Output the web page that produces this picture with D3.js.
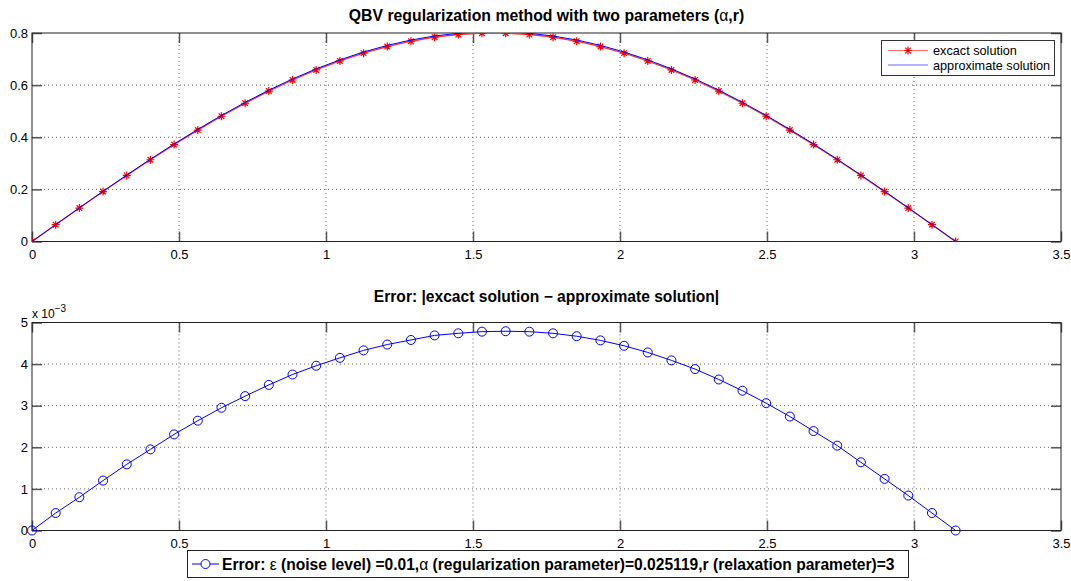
<!DOCTYPE html>
<html>
<head>
<meta charset="utf-8">
<script src="https://cdn.jsdelivr.net/npm/d3@7"></script>
<style>
  body { margin: 0; background: #fff; }
  svg { display: block; font-family: "Liberation Sans", Arial, sans-serif; }
</style>
</head>
<body>
<svg id="chart" width="1071" height="581"></svg>
<script>
// x grid: 40 points between 0 and pi
const xs = [0, 0.0806, 0.1611, 0.2417, 0.3222, 0.4028, 0.4833, 0.5639, 0.6444, 0.7250,
            0.8055, 0.8861, 0.9666, 1.0472, 1.1278, 1.2083, 1.2889, 1.3694, 1.4500, 1.5305,
            1.6111, 1.6916, 1.7722, 1.8527, 1.9333, 2.0139, 2.0944, 2.1750, 2.2555, 2.3361,
            2.4166, 2.4972, 2.5777, 2.6583, 2.7389, 2.8194, 2.9000, 2.9805, 3.0611, 3.1416];

const exact = [0, 0.0644, 0.1283, 0.1915, 0.2534, 0.3136, 0.3718, 0.4275, 0.4806, 0.5305,
               0.5771, 0.6197, 0.6584, 0.6928, 0.7227, 0.7480, 0.7684, 0.7838, 0.7942, 0.7994,
               0.7994, 0.7942, 0.7838, 0.7684, 0.7480, 0.7227, 0.6928, 0.6584, 0.6197, 0.5771,
               0.5305, 0.4806, 0.4275, 0.3718, 0.3136, 0.2534, 0.1915, 0.1283, 0.0644, 0];

const approx = [0, 0.0648, 0.1291, 0.1927, 0.2550, 0.3156, 0.3741, 0.4301, 0.4836, 0.5337,
                0.5806, 0.6235, 0.6624, 0.6970, 0.7270, 0.7525, 0.7730, 0.7885, 0.7989, 0.8042,
                0.8042, 0.7990, 0.7885, 0.7731, 0.7526, 0.7271, 0.6971, 0.6625, 0.6236, 0.5807,
                0.5339, 0.4837, 0.4302, 0.3742, 0.3156, 0.2550, 0.1927, 0.1291, 0.0648, 0];

// error in units of 1e-3
const errE3 = [0, 0.42, 0.80, 1.20, 1.59, 1.95, 2.31, 2.64, 2.95, 3.23,
               3.50, 3.75, 3.96, 4.15, 4.33, 4.47, 4.58, 4.69, 4.74, 4.78,
               4.79, 4.78, 4.74, 4.67, 4.57, 4.44, 4.28, 4.09, 3.88, 3.63,
               3.36, 3.06, 2.74, 2.39, 2.04, 1.64, 1.24, 0.84, 0.42, 0];

const xTicks = [0, 0.5, 1, 1.5, 2, 2.5, 3, 3.5];
const yTicksTop = [0, 0.2, 0.4, 0.6, 0.8];
const yTicksBottom = [0, 1, 2, 3, 4, 5];

const svg = d3.select("#chart");
const left = 32, right = 1061;

function drawAxes(top, bottom, yDomain, yTicks, yFmt, id) {
    const x = d3.scaleLinear().domain([0, 3.5]).range([left, right]);
    const y = d3.scaleLinear().domain(yDomain).range([bottom, top]);
    const g = svg.append("g");

    svg.append("clipPath").attr("id", id)
        .append("rect").attr("x", left).attr("y", top)
        .attr("width", right - left).attr("height", bottom - top);

    // dotted grid
    g.selectAll(".gx").data(xTicks.slice(1, -1)).join("line")
        .attr("x1", d => x(d)).attr("x2", d => x(d))
        .attr("y1", top).attr("y2", bottom)
        .attr("stroke", "#666").attr("stroke-dasharray", "1,3");
    g.selectAll(".gy").data(yTicks.slice(1, -1)).join("line")
        .attr("y1", d => y(d)).attr("y2", d => y(d))
        .attr("x1", left).attr("x2", right)
        .attr("stroke", "#666").attr("stroke-dasharray", "1,3");

    // inward ticks on all four sides
    const tick = (sel) => sel.call(s => s.select(".domain").remove())
        .call(s => s.selectAll(".tick line").attr("stroke", "#555").attr("stroke-width", 1.5))
        .call(s => s.selectAll(".tick text").attr("fill", "#000").style("font-size", "13px")
            .style("font-family", "Liberation Sans, Arial, sans-serif"));

    g.append("g").attr("transform", `translate(0,${bottom})`)
        .call(d3.axisBottom(x).tickValues(xTicks).tickFormat(d3.format("")).tickSizeInner(-10).tickSizeOuter(0).tickPadding(6))
        .call(tick)
        .call(s => s.selectAll(".tick text").attr("y", 8));
    g.append("g").attr("transform", `translate(0,${top})`)
        .call(d3.axisTop(x).tickValues(xTicks).tickFormat("").tickSizeInner(-10).tickSizeOuter(0))
        .call(tick);
    g.append("g").attr("transform", `translate(${left},0)`)
        .call(d3.axisLeft(y).tickValues(yTicks).tickFormat(yFmt).tickSizeInner(-10).tickSizeOuter(0))
        .call(tick)
        .call(s => s.selectAll(".tick text").attr("x", -4));
    g.append("g").attr("transform", `translate(${right},0)`)
        .call(d3.axisRight(y).tickValues(yTicks).tickFormat("").tickSizeInner(-10).tickSizeOuter(0))
        .call(tick);

    g.append("rect").attr("x", left).attr("y", top)
        .attr("width", right - left).attr("height", bottom - top)
        .attr("fill", "none").attr("stroke", "#222").attr("stroke-width", 1);

    return { x, y, g };
}

function star(sel, cx, cy, r, color) {
    const p = `M${cx - r},${cy}L${cx + r},${cy}M${cx},${cy - r}L${cx},${cy + r}` +
              `M${cx - r * 0.7},${cy - r * 0.7}L${cx + r * 0.7},${cy + r * 0.7}` +
              `M${cx - r * 0.7},${cy + r * 0.7}L${cx + r * 0.7},${cy - r * 0.7}`;
    sel.append("path").attr("d", p).attr("stroke", color).attr("stroke-width", 1.2).attr("fill", "none");
}

// ---------- top subplot ----------
const topAx = drawAxes(33, 241.5, [0, 0.8], yTicksTop, d3.format(""), "clipTop");

const lineTop = d3.line().x((d, i) => topAx.x(xs[i])).y(d => topAx.y(d));
const plotTop = svg.append("g").attr("clip-path", "url(#clipTop)");
plotTop.append("path").datum(exact).attr("d", lineTop)
    .attr("fill", "none").attr("stroke", "#ff3333").attr("stroke-width", 1.3);
exact.forEach((d, i) => star(plotTop, topAx.x(xs[i]), topAx.y(d), 4, "#ff0000"));
plotTop.append("path").datum(approx).attr("d", lineTop)
    .attr("fill", "none").attr("stroke", "#0000ff").attr("stroke-width", 1);

const t1 = svg.append("text").attr("x", (left + right) / 2).attr("y", 21)
    .attr("text-anchor", "middle").style("font-size", "15.8px").style("font-weight", "bold");
t1.append("tspan").text("QBV regularization method with two parameters (");
t1.append("tspan").style("font-weight", "normal").text("α");
t1.append("tspan").text(",r)");

// top legend
const lg = svg.append("g");
lg.append("rect").attr("x", 881.5).attr("y", 40.5).attr("width", 173).attr("height", 35)
    .attr("fill", "#fff").attr("stroke", "#333");
lg.append("line").attr("x1", 888).attr("x2", 928).attr("y1", 50.5).attr("y2", 50.5)
    .attr("stroke", "#ff6666").attr("stroke-width", 1.2);
star(lg, 908, 50.5, 4, "#ff0000");
lg.append("line").attr("x1", 888).attr("x2", 928).attr("y1", 65).attr("y2", 65)
    .attr("stroke", "#6666ff").attr("stroke-width", 1.2);
lg.append("text").attr("x", 933).attr("y", 55).style("font-size", "12.7px").text("excact solution");
lg.append("text").attr("x", 933).attr("y", 69.5).style("font-size", "12.7px").text("approximate solution");

// ---------- bottom subplot ----------
const botAx = drawAxes(322.5, 530.5, [0, 5], yTicksBottom, d3.format(""), "clipBot");

const lineBot = d3.line().x((d, i) => botAx.x(xs[i])).y(d => botAx.y(d));
const plotBot = svg.append("g");
plotBot.append("path").datum(errE3).attr("d", lineBot)
    .attr("fill", "none").attr("stroke", "#0000ff").attr("stroke-width", 1);
plotBot.selectAll("circle").data(errE3).join("circle")
    .attr("cx", (d, i) => botAx.x(xs[i])).attr("cy", d => botAx.y(d)).attr("r", 4.5)
    .attr("fill", "none").attr("stroke", "#0000ff").attr("stroke-width", 1);

svg.append("text").attr("x", (left + right) / 2).attr("y", 302)
    .attr("text-anchor", "middle").style("font-size", "15.6px").style("font-weight", "bold")
    .text("Error: |excact solution \u2212 approximate solution|");

const exp = svg.append("text").attr("x", 32).attr("y", 318).style("font-size", "12px").text("x 10");
exp.append("tspan").attr("dy", -6).style("font-size", "10px").text("\u22123");

// bottom legend
const lb = svg.append("g");
lb.append("rect").attr("x", 187.5).attr("y", 550.5).attr("width", 721).attr("height", 27)
    .attr("fill", "#fff").attr("stroke", "#222");
lb.append("line").attr("x1", 192).attr("x2", 219).attr("y1", 564).attr("y2", 564)
    .attr("stroke", "#0000ff");
lb.append("circle").attr("cx", 205.5).attr("cy", 564).attr("r", 4.5)
    .attr("fill", "#fff").attr("stroke", "#0000ff");
const lt = lb.append("text").attr("x", 222).attr("y", 570).style("font-size", "15.6px").style("font-weight", "bold");
lt.append("tspan").text("Error: ");
lt.append("tspan").style("font-weight", "normal").text("ε");
lt.append("tspan").text(" (noise level) =0.01,");
lt.append("tspan").style("font-weight", "normal").text("α");
lt.append("tspan").text(" (regularization parameter)=0.025119,r (relaxation parameter)=3");
</script>
</body>
</html>
